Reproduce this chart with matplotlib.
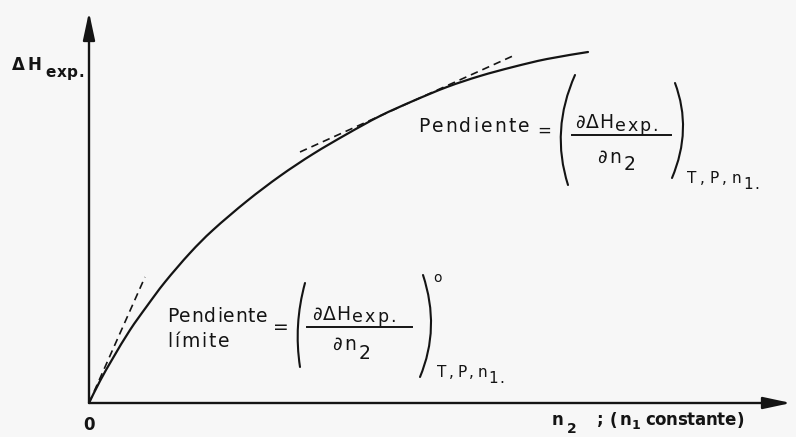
import matplotlib
matplotlib.use("Agg")
import matplotlib.pyplot as plt
from matplotlib.patches import FancyArrowPatch, PathPatch
from matplotlib.path import Path
from matplotlib.lines import Line2D
from matplotlib.transforms import Affine2D
from matplotlib.font_manager import FontProperties, findfont, get_font

# Integral enthalpy of mixing as moles of component 2 are added (n1 fixed)
n2 = [0.0, 0.11, 0.24, 0.41, 0.58, 0.76, 1.01, 1.24, 1.58, 1.91, 2.24,
      2.58, 2.91, 3.24, 3.58, 3.91, 4.24, 4.58, 4.99]
dH_exp = [0.0, 0.22, 0.45, 0.73, 0.97, 1.21, 1.50, 1.73, 2.02, 2.27, 2.49,
          2.69, 2.87, 3.02, 3.16, 3.27, 3.36, 3.44, 3.51]

# Tangent at the origin (limiting slope) and at an intermediate composition
tan0_n2 = [0.0, 0.56]
tan0_dH = [0.0, 1.26]
tan1_n2 = [2.11, 4.26]
tan1_dH = [2.51, 3.48]

# Extent of the two axis arrows
n2_axis_end = 7.02
dH_axis_end = 3.91

y_label = ("ΔH", "exp.")
origin_label = "0"
x_label = ("n", "2", ";", "(", "n", "1", "constante", ")")
slope_word = "Pendiente"
limit_word = "límite"
num_main, num_sub = "∂ΔH", "exp."
den_main, den_sub = "∂n", "2"
cond_main, cond_sub = "T,P,n", "1."
degree_mark = "o"

W, H, DPI = 796, 437, 100
INK = "#141414"
BG = "#f7f7f7"
FAMILY = "DejaVu Sans"

fig = plt.figure(figsize=(W / DPI, H / DPI), dpi=DPI, facecolor=BG)
ax = fig.add_axes([0, 0, 1, 1])
ax.set_facecolor(BG)
ax.set_xlim(-0.89, 7.07)
ax.set_ylim(-0.34, 4.03)
ax.axis("off")

# pixel layout coordinates, origin at the top-left corner
PX = Affine2D().scale(1, -1).translate(0, H)


def advance(ch, prop):
    font = get_font(findfont(prop))
    font.set_size(prop.get_size_in_points(), DPI)
    return font.load_char(ord(ch)).linearHoriAdvance / 65536.0


def put(x, y, s, size, track=0.0, weight="normal"):
    """Write s letter by letter on baseline y, with extra tracking; return end x."""
    prop = FontProperties(family=FAMILY, size=size, weight=weight)
    for ch in s:
        if ch != " ":
            fig.text(x, y, ch, fontproperties=prop, transform=PX,
                     ha="left", va="baseline", color=INK)
        x += advance(ch, prop) + track
    return x


def paren(top, mid, bottom, lw=1.5):
    ctrl = (2 * mid[0] - 0.5 * (top[0] + bottom[0]),
            2 * mid[1] - 0.5 * (top[1] + bottom[1]))
    path = Path([top, ctrl, bottom], [Path.MOVETO, Path.CURVE3, Path.CURVE3])
    fig.add_artist(PathPatch(path, transform=PX, fill=False, lw=lw,
                             edgecolor=INK, capstyle="round"))


def rule(x0, x1, y, lw=1.4):
    fig.add_artist(Line2D([x0, x1], [y, y], transform=PX, lw=lw, color=INK))


def smooth_path(xs, ys):
    """Cubic Bezier path through every point (Catmull-Rom tangents)."""
    pts = list(zip(xs, ys))
    verts, codes = [pts[0]], [Path.MOVETO]
    for i in range(len(pts) - 1):
        p0 = pts[max(i - 1, 0)]
        p1, p2 = pts[i], pts[i + 1]
        p3 = pts[min(i + 2, len(pts) - 1)]
        c1 = (p1[0] + (p2[0] - p0[0]) / 6, p1[1] + (p2[1] - p0[1]) / 6)
        c2 = (p2[0] - (p3[0] - p1[0]) / 6, p2[1] - (p3[1] - p1[1]) / 6)
        verts += [c1, c2, p2]
        codes += [Path.CURVE4] * 3
    return Path(verts, codes)


# axes with arrow heads
arrow_style = "-|>,head_length=1.4,head_width=0.3"
for end in [(n2_axis_end, 0.0), (0.0, dH_axis_end)]:
    ax.add_patch(FancyArrowPatch((0.0, 0.0), end, arrowstyle=arrow_style,
                                 mutation_scale=12, lw=1.7, color=INK,
                                 shrinkA=0, shrinkB=0, zorder=3))

# curve and its tangents
ax.add_patch(PathPatch(smooth_path(n2, dH_exp), fill=False, lw=1.6,
                       edgecolor=INK, capstyle="round", zorder=4))
ax.plot(tan0_n2, tan0_dH, color=INK, lw=1.2, linestyle=(0, (4.5, 3)), zorder=4)
ax.plot(tan1_n2, tan1_dH, color=INK, lw=1.2, linestyle=(0, (4.5, 3)), zorder=4)

# axis labels
x = put(12, 70, y_label[0], 12, track=3, weight="bold")
put(x + 1, 77, y_label[1], 11, track=0.5, weight="bold")
put(83, 430, origin_label, 12, weight="bold")
put(552, 425, x_label[0], 12, weight="bold")
put(567, 433, x_label[1], 10, weight="bold")
put(597, 425, x_label[2], 12, weight="bold")
put(610, 426, x_label[3], 12, weight="bold")
put(620, 425, x_label[4], 12, weight="bold")
put(632, 429, x_label[5], 9, weight="bold")
put(645, 425, x_label[6], 12, track=-0.3, weight="bold")
put(737, 426, x_label[7], 12, weight="bold")

# slope at an intermediate point
FS = 13.5
put(418, 132, slope_word, FS, track=2.2)
fig.text(544, 130 + 0.33 * FS * DPI / 72, "=", transform=PX, size=12,
         family=FAMILY, ha="center", va="baseline", color=INK)
paren((575, 75), (561, 130), (568, 185))
x = put(575, 128, num_main, FS, track=0.8)
put(x + 0.5, 131, num_sub, 12.5, track=1.8)
rule(572, 671, 135)
x = put(597, 163, den_main, FS, track=3)
put(x - 1, 170, den_sub, FS)
paren((675, 83), (683, 130), (672, 178))
x = put(687, 183, cond_main, 11, track=4)
put(x - 2, 189, cond_sub, 11, track=2)

# limiting slope at the origin
put(167, 322, slope_word, FS, track=0.8)
put(167, 347, limit_word, FS, track=2)
fig.text(280.5, 327 + 0.33 * FS * DPI / 72, "=", transform=PX, size=FS,
         family=FAMILY, ha="center", va="baseline", color=INK)
paren((305, 283), (298, 325), (300, 367))
x = put(312, 320, num_main, FS, track=0.8)
put(x + 0.5, 322, num_sub, 12.5, track=2.2)
rule(307, 412, 327)
x = put(332, 350, den_main, FS, track=3)
put(x - 1, 359, den_sub, FS)
paren((423, 275), (431, 327), (420, 377))
put(433, 282, degree_mark, 10)
x = put(437, 377, cond_main, 11, track=3)
put(x - 2, 383, cond_sub, 11, track=2)

fig.savefig("out.png", dpi=DPI, facecolor=BG)
